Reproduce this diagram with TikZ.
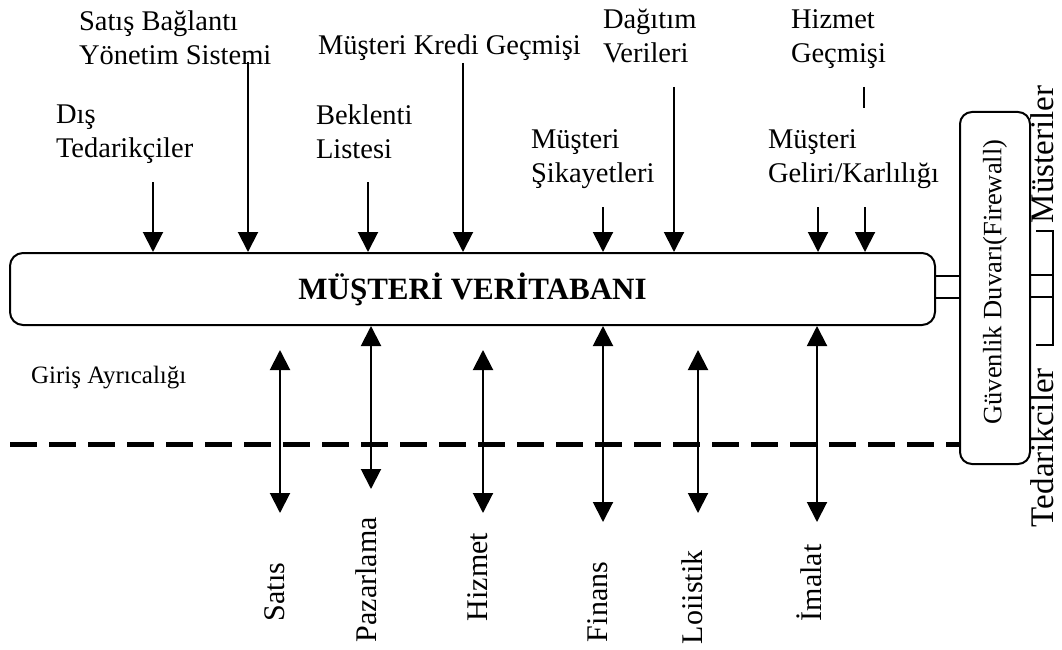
\documentclass[tikz,border=0pt]{standalone}
\usepackage{fontspec}
\setmainfont{Liberation Serif}
\usetikzlibrary{arrows.meta}

\begin{document}
\begin{tikzpicture}[x=1pt,y=-1pt,line width=2pt,
  lbl/.style={font=\fontsize{28.5}{34}\selectfont,align=left,inner sep=0pt,anchor=north west},
  vlbl/.style={font=\fontsize{30}{36}\selectfont,inner sep=0pt,rotate=90,anchor=base west},
  into/.style={-{Triangle[width=20pt,length=20pt]}},
  both/.style={{Triangle[width=20pt,length=20pt]}-{Triangle[width=20pt,length=20pt]}}]
\useasboundingbox (0,0) rectangle (1062,650);

% database and firewall
\node[draw,rounded corners=13pt,minimum width=925pt,minimum height=72pt,inner sep=0pt,
  font=\fontsize{31}{36}\selectfont\bfseries] (db) at (472.5,289) {MÜŞTERİ VERİTABANI};
\node[draw,rounded corners=12pt,minimum width=70pt,minimum height=352pt] (fw) at (995,288) {};
\node[rotate=90,inner sep=0pt,font=\fontsize{26.5}{30}\selectfont] (fwtxt) at ([yshift=6pt]fw.center) {Güvenlik Duvarı(Firewall)};

\draw ([yshift=13pt]db.east) -- ([yshift=13pt]db.east -| fw.west);
\draw ([yshift=-9pt]db.east) -- ([yshift=-9pt]db.east -| fw.west);

% customers / suppliers
\coordinate (mtop) at (1053,231);
\coordinate (tbot) at (1053,345);
\draw ([xshift=-17pt]mtop) -- (mtop) -- (tbot) -- ([xshift=-17pt]tbot);
\draw ([yshift=13pt]fw.east) -- ([yshift=13pt]fw.east -| mtop);
\draw ([yshift=-9pt]fw.east) -- ([yshift=-9pt]fw.east -| mtop);
\node[vlbl,font=\fontsize{33}{38}\selectfont] (mus) at (1053,224) {Müsteriler};
\node[vlbl,font=\fontsize{33}{38}\selectfont] (ted) at (1053,528) {Tedarikciler};

% inputs
\node[lbl] (dis) at (55,103.5) {Dış\\Tedarikçiler};
\node[lbl] (sba) at (78,9.5) {Satış Bağlantı\\Yönetim Sistemi};
\node[lbl] (bek) at (315,103.5) {Beklenti\\Listesi};
\node[lbl] (kre) at (317,33.5) {Müşteri Kredi Geçmişi};
\node[lbl] (sik) at (530,128.5) {Müşteri\\Şikayetleri};
\node[lbl] (dag) at (602,8.5) {Dağıtım\\Verileri};
\node[lbl] (hiz) at (790,8.5) {Hizmet\\Geçmişi};
\node[lbl] (gel) at (767,128.5) {Müşteri\\Geliri/Karlılığı};

\coordinate (disS) at (153,182);
\coordinate (sbaS) at (248,62);
\coordinate (bekS) at (368,182);
\coordinate (kreS) at (463,63);
\coordinate (sikS) at (603,207);
\coordinate (dagS) at (674,87);
\coordinate (gelS) at (818,207);
\coordinate (hizS) at (865,207);
\coordinate (hizA) at (864,87);
\coordinate (hizB) at (864,108);

\draw[into] (disS) -- (disS |- db.north);
\draw[into] (sbaS) -- (sbaS |- db.north);
\draw[into] (bekS) -- (bekS |- db.north);
\draw[into] (kreS) -- (kreS |- db.north);
\draw[into] (sikS) -- (sikS |- db.north);
\draw[into] (dagS) -- (dagS |- db.north);
\draw[into] (gelS) -- (gelS |- db.north);
\draw[into] (hizS) -- (hizS |- db.north);
\draw (hizA) -- (hizB);

% access line
\node[inner sep=0pt,anchor=base west,font=\fontsize{25}{30}\selectfont] (gir) at (30,383) {Giriş Ayrıcalığı};
\coordinate (gl) at (10,444);
\draw[line width=5pt,dash pattern=on 27pt off 12pt] (gl) -- (gl -| fw.west);

% departments
\coordinate (satA) at (280,350);
\coordinate (satB) at (280,513);
\coordinate (pazB) at (371,489);
\coordinate (hzmA) at (483,350);
\coordinate (hzmB) at (483,513);
\coordinate (finB) at (603,522);
\coordinate (lojA) at (698,350);
\coordinate (lojB) at (698,513);
\coordinate (imaB) at (817,522);

\draw[both] (satA) -- (satB);
\draw[both] (pazB |- db.south) -- (pazB);
\draw[both] (hzmA) -- (hzmB);
\draw[both] (finB |- db.south) -- (finB);
\draw[both] (lojA) -- (lojB);
\draw[both] (imaB |- db.south) -- (imaB);

\node[vlbl] (sat) at (284,622) {Satıs};
\node[vlbl] (paz) at (376,643) {Pazarlama};
\node[vlbl] (hzm) at (487,622) {Hizmet};
\node[vlbl] (fin) at (607,643) {Finans};
\node[vlbl] (loj) at (702,645) {Loiistik};
\node[vlbl] (ima) at (821,622) {İmalat};
\end{tikzpicture}
\end{document}
